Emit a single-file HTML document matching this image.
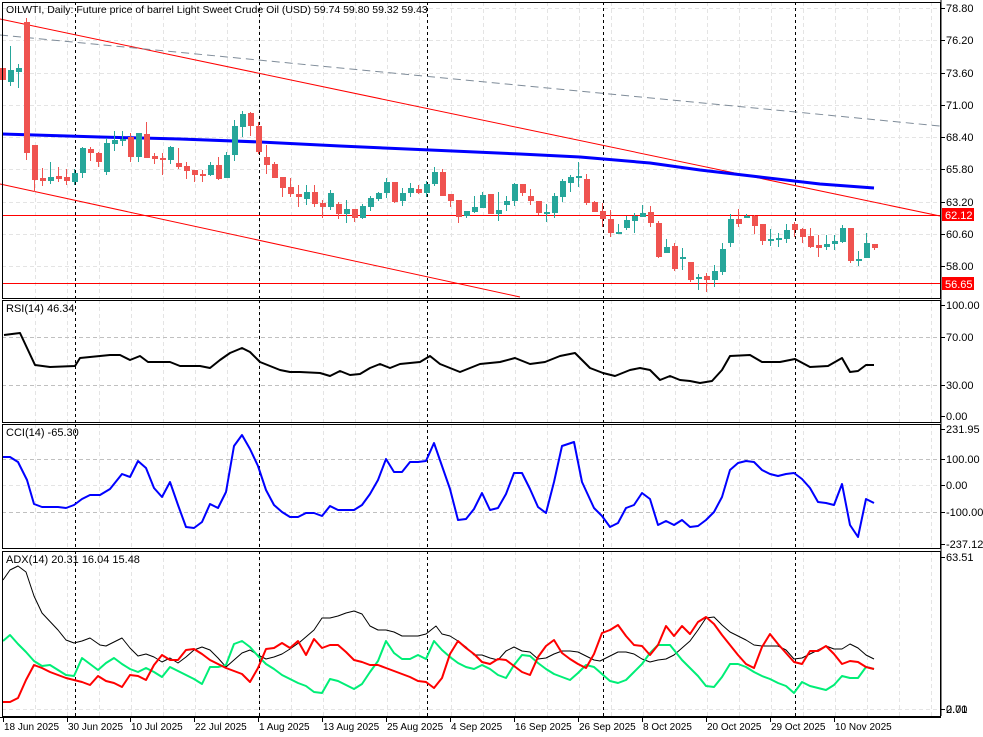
<!DOCTYPE html>
<html><head><meta charset="utf-8">
<style>
html,body{margin:0;padding:0;background:#fff;}
svg{display:block;font-family:"Liberation Sans",Tahoma,sans-serif;}
</style></head>
<body>
<svg id="c" width="983" height="737" xmlns="http://www.w3.org/2000/svg"></svg>
<script>
const S=document.getElementById('c');
let h='';
function L(x1,y1,x2,y2,st,w,da){h+=`<line x1="${x1}" y1="${y1}" x2="${x2}" y2="${y2}" stroke="${st}" stroke-width="${w||1}"${da?` stroke-dasharray="${da}"`:''}/>`;}
function T(x,y,t,fill,size,anchor){h+=`<text x="${x}" y="${y}" font-size="${size||11}" fill="${fill||'#000'}"${anchor?` text-anchor="${anchor}"`:''}>${t}</text>`;}
function P(pts,st,w){h+=`<polyline fill="none" stroke="${st}" stroke-width="${w}" stroke-linejoin="round" points="${pts.map(p=>p.join(',')).join(' ')}"/>`;}
const panels=[[2,2,298],[2,300,422],[2,424,548],[2,551,716]];
for(const [x0,t,b] of panels){
  for(let x=35;x<940;x+=32) L(x+.5,t,x+.5,b,'#e4e4e4',1,'4,3');
}
[8,40,73,105,137,169,202,234,266].forEach(y=>L(2,y+.5,940,y+.5,'#e4e4e4',1,'4,3'));
L(2,337.5,940,337.5,'#c0c0c0',1,'4,3');L(2,385.5,940,385.5,'#c0c0c0',1,'4,3');
L(2,459.5,940,459.5,'#c0c0c0',1,'4,3');L(2,512.5,940,512.5,'#c0c0c0',1,'4,3');L(2,485.5,940,485.5,'#e4e4e4',1,'4,3');
L(2,709.5,940,709.5,'#e4e4e4',1,'4,3');
[75,259,427,603,795].forEach(x=>{for(const [x0,t,b] of panels)L(x+.5,t,x+.5,b,'#000',1,'3,3');});
L(0,19,940,216,'#f00',1);
L(0,184,520,297,'#f00',1);
L(0,35,940,126,'#7f8c99',1,'8,5');
L(2,215.5,940,215.5,'#f00',1);L(2,283.5,940,283.5,'#f00',1);
P([[2,134],[100,137],[180,139],[260,142],[340,146],[430,150],[520,154],[580,157],[650,163],[700,170],[760,177],[820,184],[874,188]],'#0000ff',3);
const C=[[68,80,66,80],[82,70,46,86],[72,68,64,88],[22,153,18,160],[145,180,145,192],[178,181,168,186],[181,177,162,184],[176,179,167,182],[177,181,169,185],[182,173,169,185],
[173,148,147,178],[149,153,147,161],[153,162,152,167],[172,143,138,175],[144,140,131,151],[141,139,131,146],[137,157,133,162],[157,133,133,162],[134,158,122,158],[156,159,153,164],
[158,160,153,175],[160,147,146,164],[163,167,148,169],[166,171,162,179],[170,175,170,182],[174,175,170,182],[175,165,162,176],[165,179,157,180],[178,155,152,178],[155,126,120,161],
[127,114,111,137],[113,126,112,136],[126,152,122,154],[157,165,145,174],[164,178,162,178],[177,188,177,197],[187,194,178,197],[194,197,185,207],[199,192,185,205],[192,204,185,207],
[203,207,200,218],[207,193,190,210],[204,214,202,219],[214,209,200,223],[209,218,209,222],[218,206,204,219],[207,198,196,211],[199,193,192,201],[193,182,178,198],[182,202,182,203],
[201,193,188,206],[193,188,183,197],[189,193,185,194],[193,184,181,197],[184,172,167,186],[172,196,169,196],[194,201,194,207],[200,217,200,223],[216,211,211,218],[212,207,196,213],
[208,195,192,208],[194,214,194,214],[214,210,192,221],[205,201,196,211],[201,184,183,206],[184,193,184,196],[196,201,189,205],[201,213,201,215],[213,212,204,222],[213,196,193,218],
[197,181,179,202],[183,177,175,192],[177,176,162,187],[179,203,174,205],[202,212,201,212],[211,219,203,227],[219,233,210,237],[234,232,224,234],[228,220,216,230],[221,216,213,233],
[217,213,205,217],[212,223,206,227],[223,257,221,258],[253,247,239,253],[246,269,243,271],[259,257,248,270],[262,280,262,282],[279,277,274,290],[276,280,273,292],[280,271,265,287],
[272,249,243,275],[243,219,214,247],[219,224,209,227],[217,216,214,218],[216,226,215,234],[224,241,224,245],[240,239,229,246],[240,238,233,247],[239,230,224,243],[224,230,222,237],
[229,237,228,243],[236,247,228,248],[245,248,235,257],[247,244,235,250],[244,241,235,250],[242,228,225,243],[228,261,228,263],[261,259,251,266],[258,243,233,258],[244,248,244,250]];
C.forEach((c,i)=>{const x=2+8*i;const up=c[1]<c[0];const col=up?'#26a69a':'#ef5350';
 L(x+.5,c[2],x+.5,c[3],col,1);
 const t=Math.min(c[0],c[1]),b=Math.max(c[0],c[1]);
 h+=`<rect x="${x-2}" y="${t}" width="6" height="${Math.max(b-t,2)}" fill="${col}"/>`;});
P([[4,335],[20,333],[35,365],[50,367],[75,366],[80,358],[100,356],[110,355],[120,355],[130,360],[140,356],[148,362],[170,362],[180,366],[200,366],[210,368],[220,360],[230,353],[242,348],[250,352],[260,362],[280,370],[290,372],[300,372],[320,373],[330,376],[340,371],[350,375],[360,374],[370,368],[380,364],[390,368],[400,364],[420,362],[430,356],[440,364],[460,372],[480,364],[500,362],[515,358],[530,364],[545,362],[560,356],[575,353],[590,368],[603,373],[615,376],[630,370],[640,368],[650,370],[660,380],[670,376],[680,380],[690,381],[700,383],[712,381],[722,370],[730,356],[750,355],[762,362],[780,362],[795,359],[810,367],[828,366],[842,358],[850,372],[858,371],[866,365],[874,365]],'#000',2);
P([[3,457],[10,457],[18,462],[27,480],[34,504],[42,507],[58,507],[66,508],[74,505],[82,499],[90,495],[100,495],[110,489],[122,474],[130,477],[138,461],[146,468],[154,488],[162,497],[170,482],[178,505],[186,527],[194,528],[202,522],[210,504],[218,508],[226,492],[234,446],[242,435],[250,449],[258,466],[266,490],[274,505],[282,512],[290,517],[298,517],[306,513],[314,513],[322,516],[330,506],[338,510],[346,510],[354,510],[362,505],[370,494],[378,480],[386,459],[394,472],[402,472],[410,462],[418,462],[426,461],[434,443],[442,466],[450,489],[458,520],[466,519],[474,509],[482,493],[490,510],[498,508],[506,494],[514,473],[522,473],[530,489],[538,507],[546,513],[554,482],[562,446],[574,442],[582,482],[594,508],[602,516],[610,527],[618,523],[626,508],[634,505],[642,493],[650,499],[658,525],[666,521],[674,525],[682,520],[690,527],[698,526],[706,520],[714,512],[722,497],[730,470],[738,463],[746,461],[754,462],[762,470],[770,474],[778,476],[786,474],[794,473],[802,479],[810,488],[818,502],[826,503],[834,505],[842,484],[850,525],[858,537],[866,499],[874,503]],'#0000ff',2);
P([[3,580],[10,570],[18,566],[26,572],[34,596],[42,613],[58,630],[66,640],[74,643],[82,641],[90,638],[100,645],[106,646],[122,638],[130,648],[138,656],[146,654],[154,657],[162,662],[170,658],[178,663],[186,657],[194,650],[202,647],[210,650],[218,658],[226,667],[234,660],[242,653],[250,650],[258,655],[266,659],[274,657],[282,654],[290,649],[300,642],[314,630],[322,618],[330,618],[338,616],[346,613],[354,611],[362,614],[370,626],[378,630],[386,630],[394,632],[402,636],[418,636],[426,634],[436,626],[442,634],[450,636],[458,641],[466,647],[474,655],[482,655],[490,658],[498,660],[506,651],[514,647],[522,651],[530,652],[538,659],[546,658],[554,654],[562,651],[570,651],[578,652],[586,656],[594,660],[600,661],[608,657],[618,652],[626,652],[634,654],[642,659],[650,662],[658,660],[666,659],[674,655],[682,648],[690,641],[698,630],[706,618],[714,617],[722,625],[730,632],[738,636],[746,640],[754,645],[762,646],[778,646],[786,650],[794,659],[802,658],[810,654],[818,650],[826,646],[834,649],[842,649],[850,644],[858,648],[866,655],[874,659]],'#000',1);
P([[3,641],[10,635],[18,644],[26,652],[34,661],[42,666],[50,665],[58,670],[66,675],[74,676],[82,658],[90,664],[98,670],[106,663],[114,658],[122,664],[130,669],[138,672],[146,668],[154,672],[162,677],[170,667],[178,671],[186,675],[194,679],[202,684],[210,667],[218,667],[226,665],[234,644],[242,641],[250,647],[258,656],[266,664],[274,669],[282,675],[290,679],[298,683],[306,686],[314,692],[322,693],[330,679],[338,681],[346,685],[354,689],[362,684],[370,672],[378,661],[386,641],[394,653],[402,659],[410,659],[418,655],[426,659],[434,641],[442,650],[450,657],[458,663],[466,667],[474,669],[482,665],[490,669],[498,675],[506,678],[514,665],[522,655],[530,656],[538,663],[546,669],[554,674],[562,677],[570,680],[578,673],[586,665],[594,667],[602,674],[610,681],[618,683],[626,680],[634,672],[642,664],[650,653],[658,645],[670,645],[682,660],[690,668],[698,676],[706,686],[714,687],[722,677],[730,664],[738,664],[746,667],[754,672],[762,676],[770,679],[778,683],[786,686],[794,693],[802,682],[810,686],[818,688],[826,690],[834,685],[842,676],[850,678],[858,678],[866,667],[874,669]],'#00ee77',2);
P([[3,702],[10,702],[18,698],[26,680],[34,665],[42,668],[50,672],[58,675],[66,678],[74,680],[82,682],[90,685],[98,676],[106,681],[114,683],[122,687],[130,675],[138,676],[146,680],[154,665],[162,655],[170,660],[178,660],[186,650],[194,649],[202,654],[210,660],[218,664],[226,668],[234,671],[242,674],[250,682],[258,668],[266,649],[274,648],[282,643],[290,648],[298,641],[306,655],[314,639],[322,648],[330,645],[338,645],[346,652],[354,660],[362,662],[370,665],[378,665],[386,668],[394,671],[402,674],[410,677],[418,681],[426,682],[434,688],[442,678],[450,654],[458,641],[466,648],[474,654],[482,662],[490,664],[498,659],[506,660],[514,666],[522,672],[530,675],[538,657],[546,646],[554,640],[562,653],[570,659],[578,664],[586,668],[594,654],[602,633],[610,630],[618,625],[626,636],[634,645],[642,646],[650,655],[658,645],[666,626],[674,636],[682,626],[690,634],[698,622],[706,617],[714,624],[722,635],[730,645],[738,655],[746,664],[754,668],[762,647],[770,634],[778,644],[786,653],[794,662],[802,664],[810,651],[818,651],[826,646],[834,654],[842,664],[850,661],[858,662],[866,667],[874,669]],'#ff0000',2);
for(const [x0,t,b] of panels){h+=`<rect x="2.5" y="${t+.5}" width="938" height="${b-t}" fill="none" stroke="#000" stroke-width="1"/>`;}
L(941,0,941,716,'#000',1);
L(0,717.5,941,717.5,'#000',1);
function R(y,t){L(941,y+.5,945,y+.5,'#000',1);T(946,y+4,t);}
[[8,'78.80'],[40,'76.20'],[73,'73.60'],[105,'71.00'],[137,'68.40'],[169,'65.80'],[202,'63.20'],[234,'60.60'],[266,'58.00']].forEach(a=>R(a[0],a[1]));
h+=`<rect x="942" y="208" width="32" height="13" fill="#f00"/>`;T(945,219,'62.12','#fff');
h+=`<rect x="942" y="277" width="32" height="13" fill="#f00"/>`;T(945,288,'56.65','#fff');
[[305,'100.00'],[337,'70.00'],[385,'30.00'],[416,'0.00']].forEach(a=>R(a[0],a[1]));
[[429,'231.95'],[459,'100.00'],[485,'0.00'],[512,'-100.00'],[544,'-237.12']].forEach(a=>R(a[0],a[1]));
R(557,'63.51');R(709,'0.00');T(946,713,'2.71');
[[3,'18 Jun 2025'],[67,'30 Jun 2025'],[130,'10 Jul 2025'],[194,'22 Jul 2025'],[258,'1 Aug 2025'],[322,'13 Aug 2025'],[386,'25 Aug 2025'],[450,'4 Sep 2025'],[514,'16 Sep 2025'],[578,'26 Sep 2025'],[642,'8 Oct 2025'],[706,'20 Oct 2025'],[770,'29 Oct 2025'],[834,'10 Nov 2025']].forEach(a=>{L(a[0]+.5,718,a[0]+.5,722,'#000',1);T(a[0]+1,730,a[1],'#000',10);});
T(6,13,'OILWTI, Daily:  Future price of barrel Light Sweet Crude Oil (USD)  59.74 59.80 59.32 59.43','#000',10.5);
T(6,312,'RSI(14) 46.34');T(6,436,'CCI(14) -65.30');T(6,563,'ADX(14) 20.31 16.04 15.48');
S.innerHTML=h;
</script>
</body></html>
